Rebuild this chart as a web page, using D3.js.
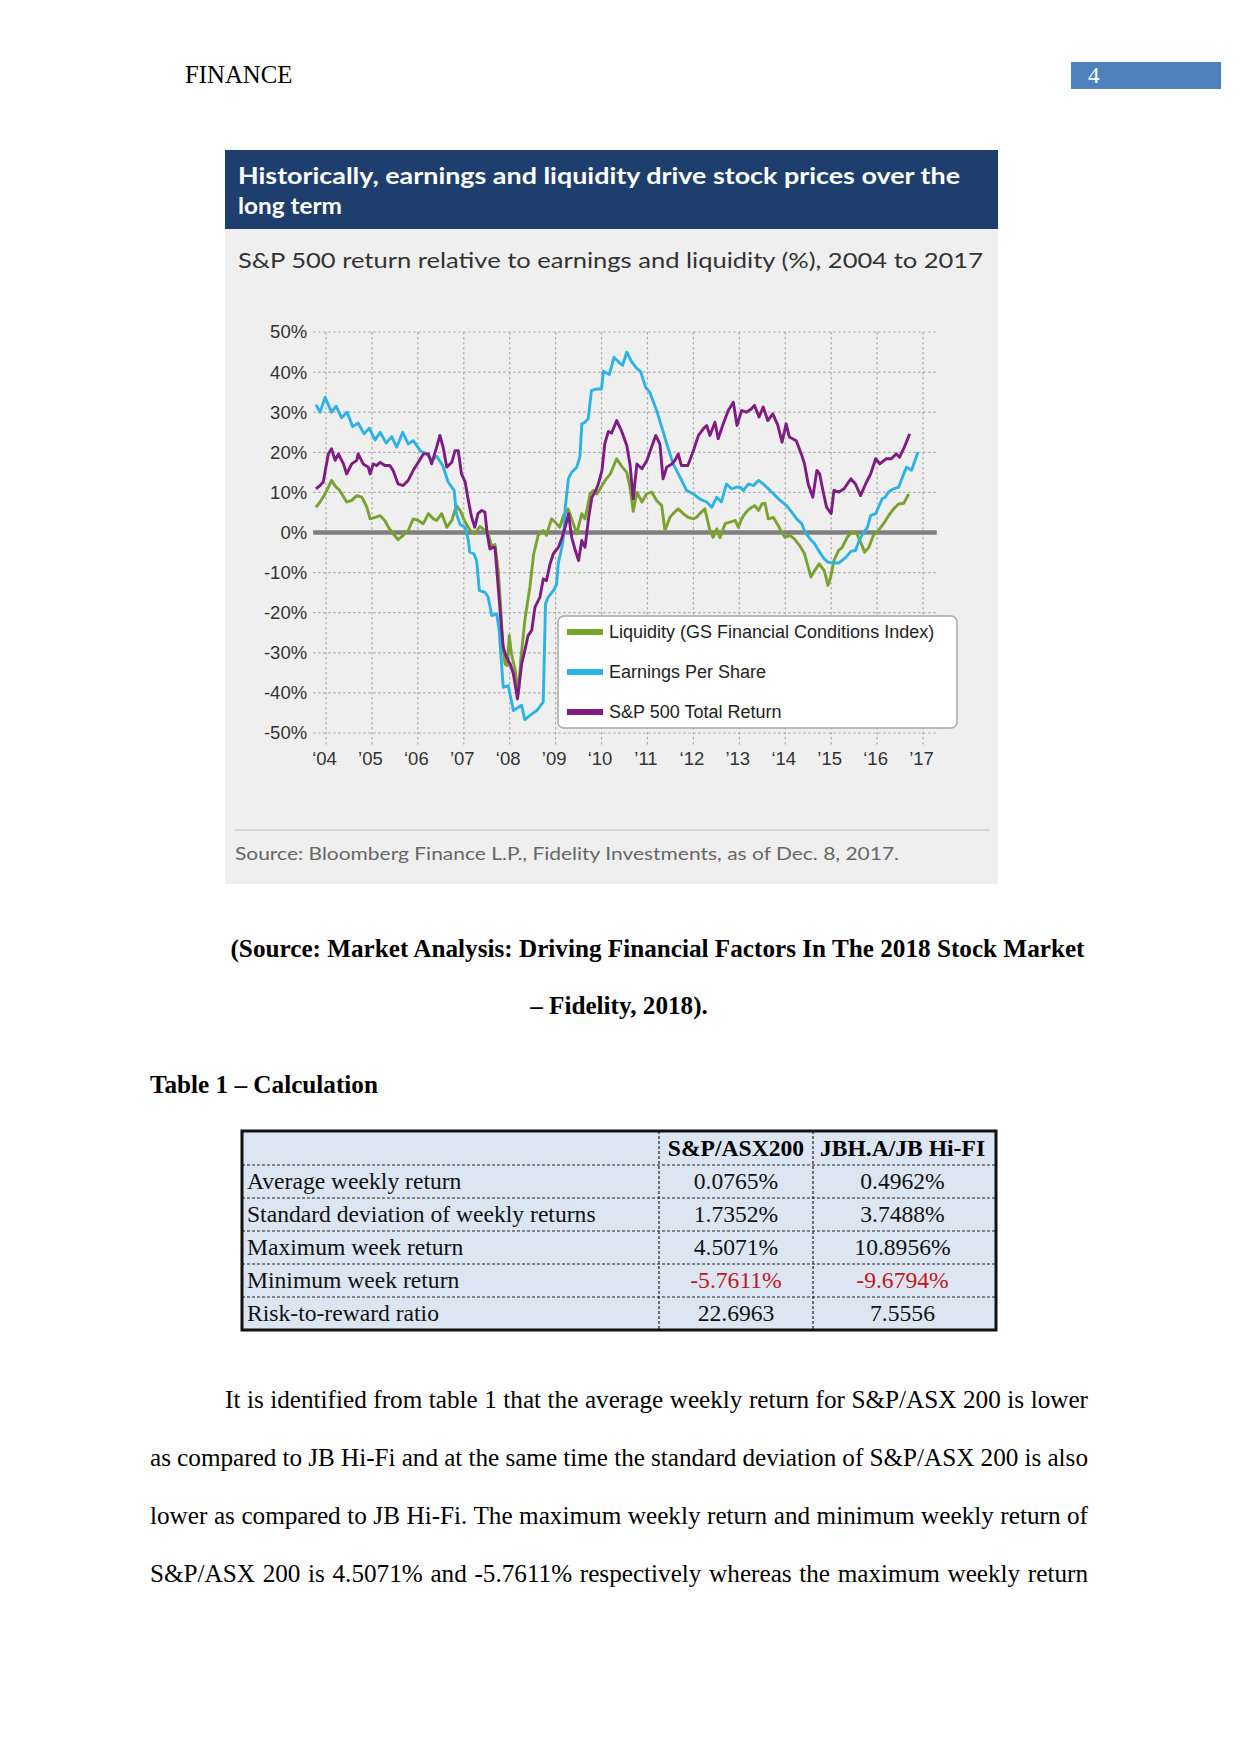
<!DOCTYPE html>
<html lang="en">
<head>
<meta charset="UTF-8">
<title>finance_page</title>
<script src="https://d3js.org/d3.v7.min.js"></script>
<style>
    body { margin: 0; background: #fff; }
    svg { display: block; }
    .serif { font-family: 'Liberation Serif', 'Times New Roman', serif; }
    .sans { font-family: 'Liberation Sans', Arial, sans-serif; }
    .fid { font-family: Lato, 'Open Sans', sans-serif; }
    .grid line { stroke: #ababab; stroke-width: 1.2; stroke-dasharray: 2.5,2.5; }
    .axis text { font-family: 'Liberation Sans', Arial, sans-serif; font-size: 18.5px; fill: #333; }
</style>
</head>
<body>
<div id="page"></div>
<script>
    // ---- chart data (decimal year, % return) ----
    const years = [2004, 2005, 2006, 2007, 2008, 2009, 2010, 2011, 2012, 2013, 2014, 2015, 2016, 2017];
    const yearLabels = ["‘04", "’05", "‘06", "’07", "‘08", "’09", "‘10", "’11", "‘12", "’13", "‘14", "’15", "‘16", "’17"];
    const pctTicks = [50, 40, 30, 20, 10, 0, -10, -20, -30, -40, -50];

    const liquidity = [
        [2003.78, 6.3], [2003.87, 7.6], [2003.98, 9.6], [2004.12, 13.0], [2004.22, 11.3], [2004.30, 10.5], [2004.45, 7.6],
        [2004.56, 8.0], [2004.67, 9.2], [2004.78, 8.8], [2004.89, 6.3], [2004.96, 3.4], [2005.07, 3.8], [2005.18, 4.2],
        [2005.28, 3.0], [2005.36, 1.3], [2005.46, -0.3], [2005.57, -1.8], [2005.68, -0.7], [2005.79, 0.5], [2005.90, 3.4],
        [2006.01, 3.0], [2006.12, 2.2], [2006.23, 4.7], [2006.34, 3.4], [2006.41, 3.0], [2006.52, 4.7], [2006.63, 1.3],
        [2006.74, 3.0], [2006.84, 6.7], [2006.92, 5.5], [2007.03, 2.6], [2007.14, 0.5], [2007.24, -0.3], [2007.35, 1.5],
        [2007.46, 0.5], [2007.53, -0.3], [2007.61, -3.5], [2007.68, -3.0], [2007.75, -9.5], [2007.80, -17.8], [2007.85, -28.6],
        [2007.90, -32.8], [2007.95, -33.2], [2007.99, -25.7], [2008.04, -30.3], [2008.12, -34.4], [2008.19, -40.2],
        [2008.24, -31.9], [2008.33, -21.9], [2008.44, -13.6], [2008.52, -5.5], [2008.62, -0.7], [2008.73, 0.5], [2008.80, -0.7],
        [2008.91, 3.4], [2008.99, 2.6], [2009.09, 1.3], [2009.17, 4.2], [2009.27, 5.9], [2009.35, 3.4], [2009.46, -0.3],
        [2009.57, 4.7], [2009.64, 3.4], [2009.75, 9.6], [2009.82, 10.5], [2009.90, 9.6], [2009.97, 10.9], [2010.08, 13.0],
        [2010.19, 14.6], [2010.33, 18.4], [2010.44, 16.5], [2010.55, 15.0], [2010.62, 11.3], [2010.69, 5.3], [2010.77, 10.0],
        [2010.88, 7.6], [2010.98, 9.6], [2011.09, 10.1], [2011.20, 8.0], [2011.31, 6.7], [2011.38, 0.5], [2011.49, 3.8],
        [2011.56, 4.7], [2011.67, 5.9], [2011.78, 4.7], [2011.88, 3.8], [2012.00, 3.4], [2012.07, 3.8], [2012.14, 4.7],
        [2012.25, 5.9], [2012.36, 0.5], [2012.43, -1.2], [2012.51, 0.9], [2012.58, -1.3], [2012.69, 2.2], [2012.80, 2.6],
        [2012.91, 3.0], [2012.98, 1.3], [2013.05, 3.4], [2013.12, 4.7], [2013.20, 5.7], [2013.27, 6.3], [2013.34, 6.7],
        [2013.42, 5.5], [2013.49, 7.1], [2013.56, 7.3], [2013.63, 3.4], [2013.74, 3.8], [2013.85, 1.7], [2013.92, 0.1],
        [2013.99, -1.2], [2014.10, -0.7], [2014.20, -1.6], [2014.31, -3.2], [2014.42, -5.3], [2014.49, -8.2], [2014.56, -11.1],
        [2014.64, -9.5], [2014.74, -7.8], [2014.85, -9.5], [2014.93, -13.2], [2014.99, -11.1], [2015.06, -7.0], [2015.16, -4.5],
        [2015.24, -3.7], [2015.35, -1.2], [2015.46, 0.1], [2015.56, -0.3], [2015.67, -3.2], [2015.73, -4.9], [2015.82, -3.7],
        [2015.92, -0.7], [2016.03, 0.5], [2016.14, 2.2], [2016.25, 4.2], [2016.36, 5.9], [2016.47, 7.1], [2016.58, 7.3],
        [2016.69, 9.6]
    ];

    const eps = [
        [2003.78, 31.9], [2003.87, 30.0], [2003.98, 33.7], [2004.12, 30.0], [2004.22, 31.5], [2004.34, 28.6], [2004.46, 30.0],
        [2004.58, 26.4], [2004.70, 27.3], [2004.83, 24.6], [2004.94, 26.0], [2005.07, 23.1], [2005.18, 25.0], [2005.31, 22.3],
        [2005.43, 23.9], [2005.54, 21.3], [2005.67, 25.0], [2005.79, 22.1], [2005.90, 22.9], [2006.05, 20.4], [2006.19, 19.6],
        [2006.30, 18.0], [2006.41, 19.0], [2006.54, 16.7], [2006.66, 12.6], [2006.79, 10.5], [2006.84, 4.7], [2006.92, 2.0],
        [2007.03, 1.3], [2007.10, -2.0], [2007.13, -4.9], [2007.22, -5.3], [2007.28, -7.0], [2007.34, -14.5], [2007.46, -14.9],
        [2007.53, -16.1], [2007.61, -20.7], [2007.72, -20.3], [2007.77, -24.4], [2007.86, -38.6], [2007.97, -38.2],
        [2008.08, -44.4], [2008.19, -43.6], [2008.26, -43.1], [2008.33, -46.7], [2008.44, -45.6], [2008.59, -44.4],
        [2008.73, -42.3], [2008.78, -17.8], [2008.84, -16.1], [2008.95, -14.5], [2009.02, -13.0], [2009.06, -7.5],
        [2009.13, -4.0], [2009.17, -1.2], [2009.21, 6.3], [2009.28, 13.5], [2009.35, 15.0], [2009.46, 16.3], [2009.53, 19.0],
        [2009.57, 27.1], [2009.64, 27.5], [2009.71, 28.4], [2009.78, 35.4], [2009.89, 35.8], [2010.00, 35.8], [2010.04, 40.2],
        [2010.17, 39.4], [2010.27, 43.7], [2010.40, 42.2], [2010.46, 41.7], [2010.55, 45.0], [2010.65, 42.7], [2010.76, 41.0],
        [2010.85, 40.2], [2010.96, 36.2], [2011.05, 35.0], [2011.20, 30.4], [2011.31, 26.3], [2011.42, 22.1], [2011.56, 17.1],
        [2011.71, 13.8], [2011.85, 10.5], [2012.00, 9.6], [2012.14, 8.4], [2012.29, 7.6], [2012.40, 6.3], [2012.51, 8.8],
        [2012.61, 7.6], [2012.72, 12.1], [2012.83, 10.9], [2012.94, 11.3], [2013.02, 11.3], [2013.09, 10.5], [2013.20, 12.1],
        [2013.31, 11.7], [2013.42, 13.0], [2013.52, 12.1], [2013.67, 10.5], [2013.78, 9.2], [2013.89, 8.0], [2014.03, 6.7],
        [2014.14, 5.1], [2014.25, 3.4], [2014.36, 2.2], [2014.43, 0.1], [2014.54, -1.6], [2014.64, -2.8], [2014.75, -4.9],
        [2014.85, -6.6], [2014.93, -7.4], [2015.03, -7.6], [2015.17, -7.6], [2015.32, -6.2], [2015.43, -4.7], [2015.53, -4.5],
        [2015.61, -2.0], [2015.71, 0.1], [2015.79, 1.3], [2015.86, 4.2], [2015.97, 4.7], [2016.03, 6.3], [2016.11, 8.4],
        [2016.18, 8.8], [2016.25, 10.1], [2016.36, 10.9], [2016.47, 11.3], [2016.54, 13.4], [2016.64, 16.3], [2016.75, 15.5],
        [2016.89, 20.0]
    ];

    const sp500 = [
        [2003.78, 10.9], [2003.87, 11.7], [2003.94, 12.6], [2004.05, 19.6], [2004.12, 20.9], [2004.20, 18.0], [2004.27, 19.6],
        [2004.38, 17.1], [2004.45, 14.6], [2004.56, 17.1], [2004.67, 18.0], [2004.70, 19.6], [2004.81, 17.1], [2004.92, 16.3],
        [2004.96, 14.6], [2005.03, 17.1], [2005.10, 16.7], [2005.18, 17.5], [2005.28, 16.7], [2005.39, 16.7], [2005.46, 15.5],
        [2005.57, 12.1], [2005.68, 11.7], [2005.79, 13.0], [2005.90, 15.5], [2006.01, 17.5], [2006.12, 19.6], [2006.23, 19.6],
        [2006.30, 17.1], [2006.41, 21.3], [2006.48, 24.2], [2006.55, 21.3], [2006.63, 16.3], [2006.74, 17.5], [2006.81, 20.4],
        [2006.88, 20.4], [2006.95, 14.6], [2007.03, 12.6], [2007.10, 8.0], [2007.17, 3.8], [2007.24, 1.3], [2007.31, 4.7],
        [2007.39, 5.5], [2007.46, 5.1], [2007.51, -0.3], [2007.57, -4.1], [2007.64, -3.7], [2007.68, -3.7], [2007.75, -13.6],
        [2007.82, -23.6], [2007.86, -28.6], [2007.93, -31.1], [2008.01, -32.8], [2008.08, -35.2], [2008.17, -41.5],
        [2008.26, -32.8], [2008.33, -29.4], [2008.40, -25.7], [2008.48, -24.4], [2008.55, -18.6], [2008.66, -16.1],
        [2008.73, -11.6], [2008.80, -12.0], [2008.88, -7.8], [2008.95, -5.3], [2009.06, -3.7], [2009.13, -1.6], [2009.21, 1.3],
        [2009.28, 4.7], [2009.35, -1.2], [2009.43, -4.5], [2009.50, -7.0], [2009.57, -2.0], [2009.64, -3.7], [2009.72, 3.8],
        [2009.79, 8.8], [2009.86, 10.1], [2009.93, 12.1], [2010.01, 15.5], [2010.07, 22.1], [2010.15, 25.2], [2010.22, 24.8],
        [2010.33, 27.9], [2010.44, 25.2], [2010.55, 21.7], [2010.62, 17.0], [2010.69, 8.4], [2010.77, 17.1], [2010.88, 15.9],
        [2010.99, 18.0], [2011.09, 21.3], [2011.18, 24.2], [2011.27, 22.1], [2011.34, 13.4], [2011.42, 16.3], [2011.53, 17.1],
        [2011.60, 18.0], [2011.67, 19.6], [2011.74, 16.7], [2011.88, 16.7], [2012.00, 20.4], [2012.11, 24.2], [2012.22, 25.9],
        [2012.29, 26.7], [2012.36, 24.2], [2012.47, 27.5], [2012.54, 23.4], [2012.65, 27.1], [2012.76, 30.4], [2012.87, 32.5],
        [2012.95, 26.7], [2013.05, 30.4], [2013.15, 30.0], [2013.26, 30.8], [2013.33, 31.7], [2013.43, 28.8], [2013.52, 31.3],
        [2013.62, 27.9], [2013.73, 29.6], [2013.84, 26.7], [2013.93, 22.5], [2014.02, 27.1], [2014.09, 23.8], [2014.24, 22.9],
        [2014.35, 19.6], [2014.42, 17.1], [2014.50, 12.1], [2014.60, 8.8], [2014.69, 15.5], [2014.75, 14.6], [2014.82, 10.5],
        [2014.90, 6.3], [2015.00, 4.7], [2015.06, 10.5], [2015.17, 10.1], [2015.28, 10.9], [2015.43, 13.4], [2015.53, 12.1],
        [2015.64, 9.2], [2015.75, 12.1], [2015.86, 14.6], [2015.97, 18.4], [2016.06, 17.1], [2016.20, 18.4], [2016.31, 18.4],
        [2016.42, 19.6], [2016.49, 18.8], [2016.58, 20.9], [2016.71, 24.6]
    ];

    const seriesNames = ["Liquidity (GS Financial Conditions Index)", "Earnings Per Share", "S&P 500 Total Return"];
    const seriesColors = ["#79a22f", "#2db2e4", "#7e1c82"];

    // ---- table data ----
    const tableHeads = ["S&P/ASX200", "JBH.A/JB Hi-FI"];
    const tableRows = ["Average weekly return", "Standard deviation of weekly returns", "Maximum week return",
        "Minimum week return", "Risk-to-reward ratio"];
    const asxValues = ["0.0765%", "1.7352%", "4.5071%", "-5.7611%", "22.6963"];
    const jbhValues = ["0.4962%", "3.7488%", "10.8956%", "-9.6794%", "7.5556"];

    const bodyLines = [
        "It is identified from table 1 that the average weekly return for S&P/ASX 200 is lower",
        "as compared to JB Hi-Fi and at the same time the standard deviation of S&P/ASX 200 is also",
        "lower as compared to JB Hi-Fi. The maximum weekly return and minimum weekly return of",
        "S&P/ASX 200 is 4.5071% and -5.7611% respectively whereas the maximum weekly return"
    ];

    const W = 1241, H = 1754;
    const svg = d3.select("#page").append("svg")
        .attr("width", W).attr("height", H);

    svg.append("rect").attr("width", W).attr("height", H).attr("fill", "#fff");

    // stretch or squeeze text to the width seen in the picture
    function fit(sel, width) {
        sel.attr("textLength", width).attr("lengthAdjust", "spacingAndGlyphs");
    }
    // justify a line by spreading the word gaps
    function justify(sel, width) {
        sel.each(function () {
            const natural = this.getComputedTextLength();
            const gaps = (d3.select(this).text().match(/ /g) || []).length;
            if (gaps > 0) d3.select(this).style("word-spacing", ((width - natural) / gaps) + "px");
        });
    }

    // ---- running header ----
    svg.append("text").attr("class", "serif")
        .attr("x", 185).attr("y", 83)
        .style("font-size", "24.8px").text("FINANCE");
    svg.append("rect").attr("x", 1071).attr("y", 62).attr("width", 150).attr("height", 27).attr("fill", "#4f81bd");
    svg.append("text").attr("class", "serif")
        .attr("x", 1088).attr("y", 83).attr("fill", "#fff")
        .style("font-size", "23px").text("4");

    // ---- chart image ----
    const chart = svg.append("g");
    chart.append("rect").attr("x", 225).attr("y", 150).attr("width", 773).attr("height", 734).attr("fill", "#efefef");
    chart.append("rect").attr("x", 225).attr("y", 150).attr("width", 773).attr("height", 79).attr("fill", "#1e3f6d");

    chart.append("text").attr("class", "fid")
        .attr("x", 238).attr("y", 184).attr("fill", "#fff")
        .style("font-size", "22px").style("font-weight", 700)
        .text("Historically, earnings and liquidity drive stock prices over the")
        .call(fit, 722);
    chart.append("text").attr("class", "fid")
        .attr("x", 238).attr("y", 214).attr("fill", "#fff")
        .style("font-size", "22px").style("font-weight", 700)
        .text("long term")
        .call(fit, 104);

    chart.append("text").attr("class", "fid")
        .attr("x", 238).attr("y", 268).attr("fill", "#333")
        .style("font-size", "21.5px")
        .text("S&P 500 return relative to earnings and liquidity (%), 2004 to 2017")
        .call(fit, 745);

    const x = d3.scaleLinear().domain([2004, 2017]).range([326, 923]);
    const y = d3.scaleLinear().domain([-50, 50]).range([733, 332]);
    const gridLeft = x(2003.72), gridRight = x(2017.3), gridBottom = y(-53.3);

    // dotted grid
    const grid = chart.append("g").attr("class", "grid");
    grid.selectAll(".h").data(pctTicks.filter(d => d !== 0)).enter().append("line")
        .attr("x1", gridLeft).attr("x2", gridRight)
        .attr("y1", d => y(d)).attr("y2", d => y(d));
    grid.selectAll(".v").data(years).enter().append("line")
        .attr("x1", d => x(d)).attr("x2", d => x(d))
        .attr("y1", y(50)).attr("y2", gridBottom);

    // axes (labels only)
    chart.append("g").attr("class", "axis")
        .attr("transform", `translate(${gridLeft},0)`)
        .call(d3.axisLeft(y).tickValues(pctTicks).tickSize(0).tickPadding(6).tickFormat(d => d + "%"))
        .call(g => g.select(".domain").remove());
    chart.append("g").attr("class", "axis")
        .attr("transform", `translate(-2,${gridBottom})`)
        .call(d3.axisBottom(x).tickValues(years).tickSize(0).tickPadding(6).tickFormat((d, i) => yearLabels[i]))
        .call(g => g.select(".domain").remove());

    // zero line
    chart.append("line")
        .attr("x1", gridLeft).attr("x2", gridRight)
        .attr("y1", y(0)).attr("y2", y(0))
        .attr("stroke", "#7f7f7f").attr("stroke-width", 4.5);

    const line = d3.line().x(d => x(d[0])).y(d => y(d[1]));
    chart.selectAll(".series").data([liquidity, eps, sp500]).enter().append("path")
        .attr("class", "series")
        .attr("d", line)
        .attr("fill", "none")
        .attr("stroke", (d, i) => seriesColors[i])
        .attr("stroke-width", 2.9)
        .attr("stroke-linejoin", "round");

    // legend
    const legend = chart.append("g").attr("transform", "translate(558,616)");
    legend.append("rect").attr("width", 399).attr("height", 112).attr("rx", 6)
        .attr("fill", "#fff").attr("stroke", "#a8a8a8").attr("stroke-width", 1.5);
    const items = legend.selectAll(".item").data(seriesNames).enter().append("g")
        .attr("transform", (d, i) => `translate(0,${16 + i * 40})`);
    items.append("rect").attr("x", 9).attr("y", -3).attr("width", 36).attr("height", 6)
        .attr("fill", (d, i) => seriesColors[i]);
    items.append("text").attr("class", "sans")
        .attr("x", 51).attr("dy", "0.35em")
        .style("font-size", "18px").attr("fill", "#222")
        .text(d => d);

    // source
    chart.append("line").attr("x1", 235).attr("x2", 990).attr("y1", 830).attr("y2", 830)
        .attr("stroke", "#cfcfcf").attr("stroke-width", 1.5);
    chart.append("text").attr("class", "fid")
        .attr("x", 235).attr("y", 860).attr("fill", "#666")
        .style("font-size", "18px")
        .text("Source: Bloomberg Finance L.P., Fidelity Investments, as of Dec. 8, 2017.")
        .call(fit, 664);

    // ---- caption ----
    svg.append("text").attr("class", "serif")
        .attr("x", 657.5).attr("y", 957).attr("text-anchor", "middle")
        .style("font-size", "25.2px").style("font-weight", 700)
        .text("(Source: Market Analysis: Driving Financial Factors In The 2018 Stock Market");
    svg.append("text").attr("class", "serif")
        .attr("x", 619).attr("y", 1014).attr("text-anchor", "middle")
        .style("font-size", "25.2px").style("font-weight", 700)
        .text("– Fidelity, 2018).");
    svg.append("text").attr("class", "serif")
        .attr("x", 150).attr("y", 1093)
        .style("font-size", "25.2px").style("font-weight", 700)
        .text("Table 1 – Calculation");

    // ---- table ----
    const tLeft = 242, tRight = 996, tTop = 1131, headBottom = 1165, rowH = 33;
    const colEdges = [tLeft, 659, 813, tRight];
    const table = svg.append("g");
    const tBottom = headBottom + rowH * tableRows.length;
    table.append("rect").attr("x", tLeft).attr("y", tTop)
        .attr("width", tRight - tLeft).attr("height", tBottom - tTop)
        .attr("fill", "#dce6f2");
    table.selectAll(".rl").data(d3.range(tableRows.length)).enter().append("line")
        .attr("x1", tLeft).attr("x2", tRight)
        .attr("y1", i => headBottom + i * rowH).attr("y2", i => headBottom + i * rowH)
        .attr("stroke", "#222").attr("stroke-width", 1.2).attr("stroke-dasharray", "3,2");
    table.selectAll(".cl").data(colEdges.slice(1, 3)).enter().append("line")
        .attr("x1", d => d).attr("x2", d => d)
        .attr("y1", tTop).attr("y2", tBottom)
        .attr("stroke", "#222").attr("stroke-width", 1.2).attr("stroke-dasharray", "3,2");
    table.append("rect").attr("x", tLeft).attr("y", tTop)
        .attr("width", tRight - tLeft).attr("height", tBottom - tTop)
        .attr("fill", "none").attr("stroke", "#111").attr("stroke-width", 3);

    const colMid = [(colEdges[1] + colEdges[2]) / 2, (colEdges[2] + colEdges[3]) / 2 - 2];
    table.selectAll(".hd").data(tableHeads).enter().append("text").attr("class", "serif")
        .attr("x", (d, i) => colMid[i]).attr("y", headBottom - 9)
        .attr("text-anchor", "middle")
        .style("font-size", "23.6px").style("font-weight", 700)
        .text(d => d);
    table.selectAll(".rn").data(tableRows).enter().append("text").attr("class", "serif")
        .attr("x", tLeft + 5).attr("y", (d, i) => headBottom + i * rowH + 24)
        .style("font-size", "23.6px").attr("fill", "#111")
        .text(d => d);
    [asxValues, jbhValues].forEach((vals, c) => {
        table.selectAll(".v" + c).data(vals).enter().append("text").attr("class", "serif")
            .attr("x", colMid[c]).attr("y", (d, i) => headBottom + i * rowH + 24)
            .attr("text-anchor", "middle")
            .style("font-size", "23.6px")
            .attr("fill", d => d.startsWith("-") ? "#c0161c" : "#111")
            .text(d => d);
    });

    // ---- body paragraph ----
    svg.selectAll(".body").data(bodyLines).enter().append("text").attr("class", "serif body")
        .attr("x", (d, i) => i === 0 ? 225 : 150)
        .attr("y", (d, i) => 1408 + i * 58)
        .style("font-size", "25.2px")
        .text(d => d)
        .each(function (d, i) { justify(d3.select(this), i === 0 ? 863 : 938); });
</script>
</body>
</html>
